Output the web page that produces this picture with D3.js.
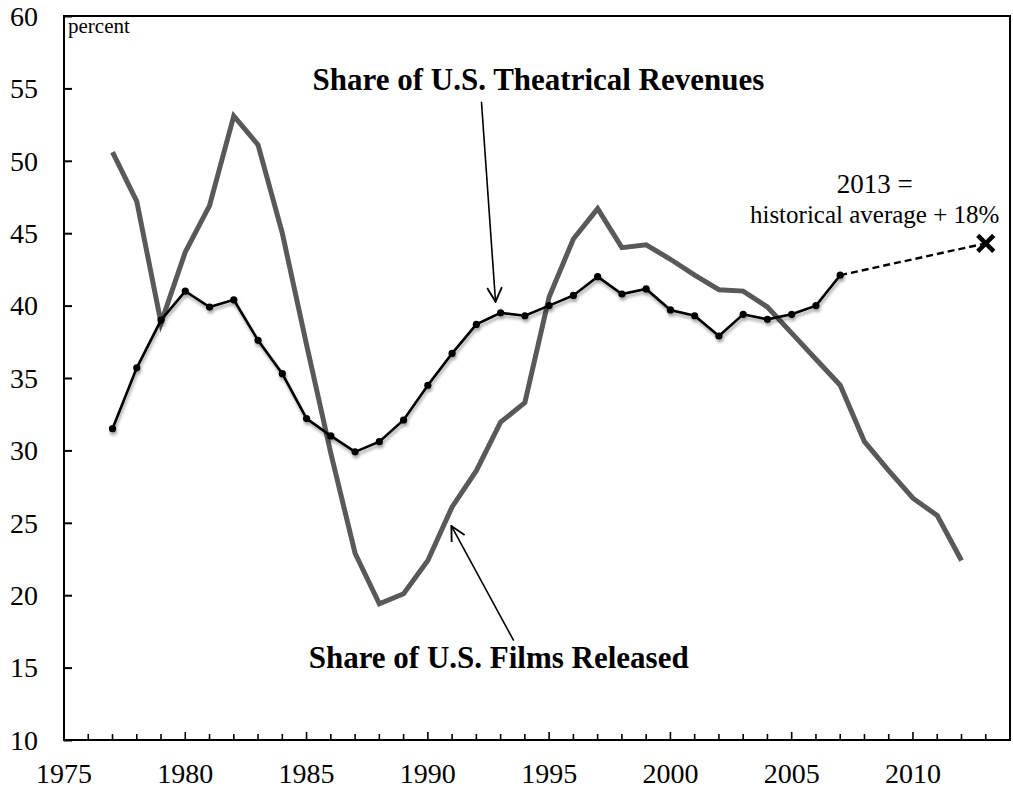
<!DOCTYPE html>
<html>
<head>
<meta charset="utf-8">
<script src="https://cdn.jsdelivr.net/npm/d3@7"></script>
<style>
  body { margin: 0; background: #fff; }
  svg { display: block; }
  text { font-family: "Liberation Serif", "DejaVu Serif", serif; fill: #000; }
</style>
</head>
<body>
<div id="chart"></div>
<script>
// share of U.S. theatrical revenues, 1977-2007
const revYears = d3.range(1977, 2008)
const revenue = [31.5, 35.7, 39.0, 41.0, 39.9, 40.4, 37.6, 35.3, 32.2, 31.0,
                 29.9, 30.6, 32.1, 34.5, 36.7, 38.7, 39.5, 39.3, 40.0, 40.7,
                 42.0, 40.8, 41.15, 39.7, 39.3, 37.9, 39.4, 39.05, 39.4, 40.0,
                 42.1]

// share of U.S. films released, 1977-2012
const filmYears = d3.range(1977, 2013)
const films = [50.6, 47.2, 38.8, 43.7, 46.9, 53.1, 51.1, 45.0, 37.3, 29.8,
               22.9, 19.4, 20.1, 22.4, 26.1, 28.6, 31.95, 33.3, 40.6, 44.6,
               46.7, 44.0, 44.2, 43.2, 42.1, 41.1, 41.0, 39.9, 38.1, 36.3,
               34.5, 30.6, 28.6, 26.7, 25.5, 22.4]

// 2013 estimate
const projYear = 2013
const projValue = 44.3

const yTicks = [10, 15, 20, 25, 30, 35, 40, 45, 50, 55, 60]
const xTicks = [1975, 1980, 1985, 1990, 1995, 2000, 2005, 2010]

const width = 1013, height = 788
const margin = {top: 16, right: 3, bottom: 48, left: 64}

const svg = d3.select("#chart").append("svg")
    .attr("width", width)
    .attr("height", height)

const x = d3.scaleLinear().domain([1975, 2014]).range([margin.left, width - margin.right])
const y = d3.scaleLinear().domain([10, 60]).range([height - margin.bottom, margin.top])

const defs = svg.append("defs")
defs.append("filter").attr("id", "shadow")
    .attr("x", "-20%").attr("y", "-20%").attr("width", "140%").attr("height", "140%")
  .append("feDropShadow")
    .attr("dx", 1).attr("dy", 3).attr("stdDeviation", 1.6)
    .attr("flood-color", "#000").attr("flood-opacity", 0.35)

defs.append("marker").attr("id", "head")
    .attr("viewBox", "0 0 12 12").attr("refX", 11).attr("refY", 6)
    .attr("markerWidth", 17).attr("markerHeight", 17)
    .attr("markerUnits", "userSpaceOnUse").attr("orient", "auto")
  .append("path")
    .attr("d", "M1,0.8 L11,6 L1,11.2")
    .attr("fill", "none").attr("stroke", "#000").attr("stroke-width", 1.3)

// frame
svg.append("rect")
    .attr("x", x(1975)).attr("y", y(60))
    .attr("width", x(2014) - x(1975)).attr("height", y(10) - y(60))
    .attr("fill", "none").attr("stroke", "#000").attr("stroke-width", 2)

// y axis, ticks inside
const yAxis = svg.append("g")
    .attr("transform", `translate(${x(1975)},0)`)
    .call(d3.axisLeft(y).tickValues(yTicks).tickSize(-8).tickPadding(26))
yAxis.select(".domain").remove()
yAxis.selectAll(".tick line").attr("stroke", "#000").attr("stroke-width", 2)
yAxis.selectAll(".tick text")
    .style("font-family", '"Liberation Serif", serif')
    .style("font-size", "28px").attr("dy", "0.33em")

// x axis: minor ticks every year, major every five
const xAxis = svg.append("g")
    .attr("transform", `translate(0,${y(10)})`)
xAxis.selectAll("line.minor")
    .data(d3.range(1976, 2014))
    .join("line")
    .attr("x1", d => x(d)).attr("x2", d => x(d))
    .attr("y1", 0).attr("y2", d => d % 5 === 0 ? -8 : -6)
    .attr("stroke", "#000").attr("stroke-width", 1.6)
xAxis.selectAll("text")
    .data(xTicks)
    .join("text")
    .attr("x", d => x(d)).attr("y", 43)
    .attr("text-anchor", "middle")
    .style("font-size", "28px")
    .text(d => d)

svg.append("text")
    .attr("x", x(1975) + 4).attr("y", y(60) + 17)
    .style("font-size", "21px")
    .text("percent")

// films line
const line = d3.line().x(d => x(d[0])).y(d => y(d[1]))
svg.append("path")
    .datum(d3.zip(filmYears, films))
    .attr("d", line)
    .attr("fill", "none").attr("stroke", "#595959")
    .attr("stroke-width", 5).attr("stroke-linejoin", "miter")

// revenue line and points
const revG = svg.append("g").attr("filter", "url(#shadow)")
revG.append("path")
    .datum(d3.zip(revYears, revenue))
    .attr("d", line)
    .attr("fill", "none").attr("stroke", "#000").attr("stroke-width", 2.6)
revG.selectAll("circle")
    .data(d3.zip(revYears, revenue))
    .join("circle")
    .attr("cx", d => x(d[0])).attr("cy", d => y(d[1]))
    .attr("r", 3.6).attr("fill", "#000")

// dashed projection to 2013
const last = [revYears[revYears.length - 1], revenue[revenue.length - 1]]
svg.append("line")
    .attr("x1", x(last[0])).attr("y1", y(last[1]))
    .attr("x2", x(projYear)).attr("y2", y(projValue))
    .attr("stroke", "#000").attr("stroke-width", 2.4)
    .attr("stroke-dasharray", "7,4")

const cs = 8
svg.append("path")
    .attr("d", `M${x(projYear) - cs},${y(projValue) - cs}L${x(projYear) + cs},${y(projValue) + cs}` +
               `M${x(projYear) - cs},${y(projValue) + cs}L${x(projYear) + cs},${y(projValue) - cs}`)
    .attr("stroke", "#000").attr("stroke-width", 4.5)

// annotations
svg.append("text")
    .attr("x", x(2008.42)).attr("y", y(47.76))
    .attr("text-anchor", "middle")
    .style("font-size", "27px")
    .text("2013 =")
svg.append("text")
    .attr("x", x(2008.42)).attr("y", y(45.73))
    .attr("text-anchor", "middle")
    .style("font-size", "25px")
    .text("historical average + 18%")

svg.append("text")
    .attr("x", x(1994.56)).attr("y", y(54.89))
    .attr("text-anchor", "middle")
    .style("font-size", "31px").style("font-weight", "bold")
    .text("Share of U.S. Theatrical Revenues")
svg.append("line")
    .attr("x1", x(1992.21)).attr("y1", y(54.08))
    .attr("x2", x(1992.79)).attr("y2", y(40.27))
    .attr("stroke", "#000").attr("stroke-width", 1.6)
    .attr("marker-end", "url(#head)")

svg.append("text")
    .attr("x", x(1992.92)).attr("y", y(14.95))
    .attr("text-anchor", "middle")
    .style("font-size", "31px").style("font-weight", "bold")
    .text("Share of U.S. Films Released")
svg.append("line")
    .attr("x1", x(1993.54)).attr("y1", y(16.86))
    .attr("x2", x(1990.97)).attr("y2", y(24.78))
    .attr("stroke", "#000").attr("stroke-width", 1.6)
    .attr("marker-end", "url(#head)")
</script>
</body>
</html>
